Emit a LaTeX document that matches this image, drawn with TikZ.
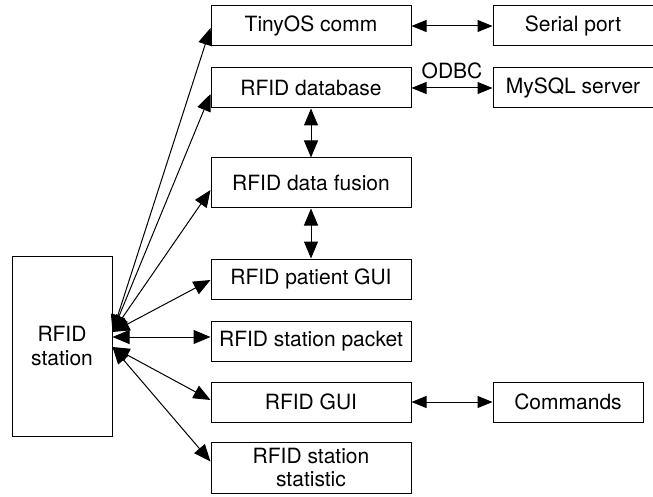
\documentclass[tikz,border=0pt]{standalone}
\usepackage{fontspec}
\setmainfont{TeX Gyre Heros}
\usepackage{tikz}
\usetikzlibrary{positioning,arrows.meta}

\begin{document}
\begin{tikzpicture}[
      x=1pt, y=-1pt,
      module/.style={rectangle, draw, line width=1pt, minimum width=200pt, minimum height=40pt,
        align=center, inner sep=0pt, font=\fontsize{21}{23.5}\selectfont},
      link/.style={{Triangle[length=17pt,width=14pt]}-{Triangle[length=17pt,width=14pt]}, line width=1pt},
      peer/.style={{Triangle[length=15pt,width=12pt]}-{Triangle[length=15pt,width=12pt]}, line width=1pt}
    ]
    \useasboundingbox (0,0) rectangle (653,497);

    % station on the left
    \node[module, minimum width=100pt, minimum height=180pt] (station) at (62,346) {RFID\\station};

    % middle column
    \node[module] (tinyos) at (311,26) {TinyOS comm};
    \node[module, below=21pt of tinyos] (db) {RFID database};
    \node[module, minimum height=50pt, below=49pt of db] (fusion) {RFID data fusion};
    \node[module, below=50pt of fusion] (patient) {RFID patient GUI};
    \node[module, below=21pt of patient] (packet) {RFID station packet};
    \node[module, below=20pt of packet] (gui) {RFID GUI};
    \node[module, minimum height=51pt, below=19pt of gui] (stat) {RFID station\\statistic};

    % right column
    \node[module, minimum width=160pt, right=81pt of tinyos] (serial) {Serial port};
    \node[module, minimum width=160pt, right=81pt of db] (mysql) {MySQL server};
    \node[module, minimum width=150pt, right=81pt of gui] (commands) {Commands};

    \coordinate (hubup) at ([yshift=14pt]station.east);
    \coordinate (hubmid) at ([yshift=9pt]station.east);
    \coordinate (hubdn) at ([yshift=-1pt]station.east);

    \draw[link] (hubup) -- ([yshift=-2pt]tinyos.west);
    \draw[link] (hubup) -- ([yshift=-6pt]db.west);
    \draw[link] (hubup) -- ([yshift=-7pt]fusion.west);
    \draw[link] (hubup) -- ([yshift=-1pt]patient.west);
    \draw[link] (hubmid) -- (hubmid -| packet.west);
    \draw[link] (hubdn) -- ([yshift=2pt]gui.west);
    \draw[link] (hubdn) -- ([yshift=6pt]stat.west);

    \draw[link] (db) -- (fusion);
    \draw[link] (fusion) -- (patient);

    \draw[peer] (tinyos) -- (serial);
    \draw[peer] (db) -- node[above=9pt, inner sep=0pt, font=\fontsize{21}{23.5}\selectfont] (odbc) {ODBC} (mysql);
    \draw[peer] (gui) -- (commands);
  \end{tikzpicture}
\end{document}
